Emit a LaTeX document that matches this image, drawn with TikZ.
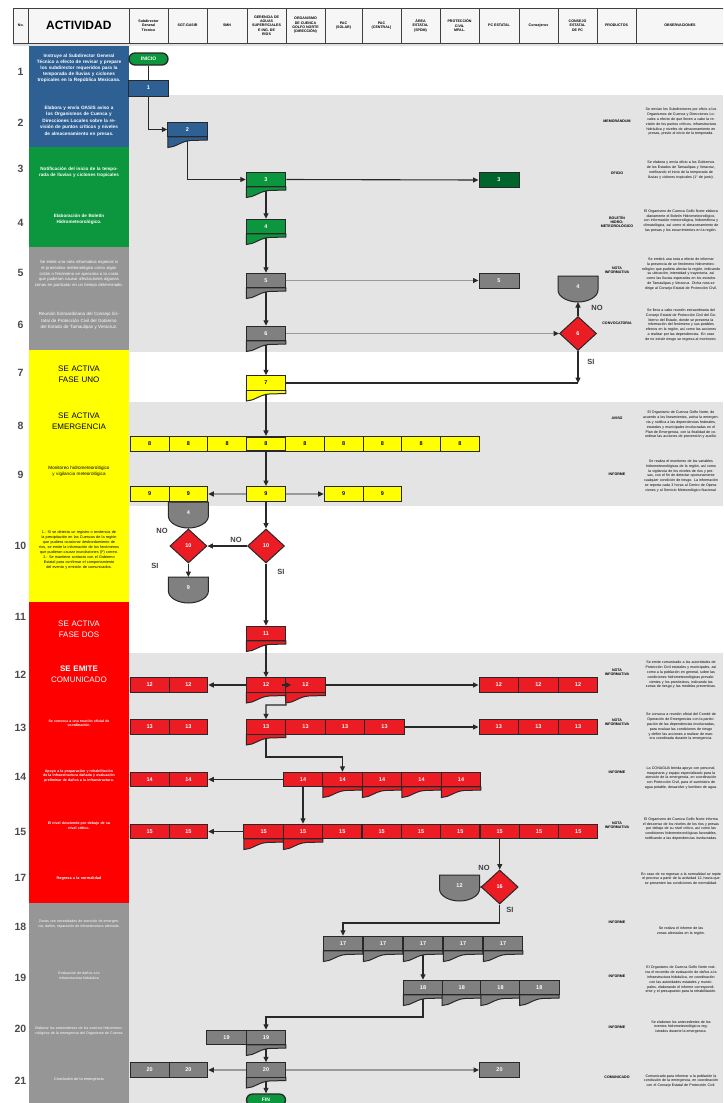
\documentclass[tikz,border=0pt]{standalone}
\usepackage{fontspec}
\setmainfont{Liberation Sans}
\usetikzlibrary{shapes.geometric,arrows.meta,calc}
\definecolor{bandgray}{RGB}{228,228,228}
\definecolor{cblue}{RGB}{46,96,148}
\definecolor{cgreen}{RGB}{12,150,62}
\definecolor{dgreen}{RGB}{0,100,45}
\definecolor{cgray}{RGB}{128,128,128}
\definecolor{lgray}{RGB}{150,150,150}
\definecolor{cyel}{RGB}{255,255,0}
\definecolor{cred}{RGB}{235,28,36}
\definecolor{lred}{RGB}{255,0,0}
\definecolor{edge}{RGB}{40,40,40}
\definecolor{numc}{RGB}{75,75,75}
\newcommand{\myfs}[2]{\fontsize{#1}{#2}\selectfont}
\pgfdeclarelayer{bg}
\pgfdeclarelayer{lines}
\pgfsetlayers{bg,lines,main}
\tikzset{
  box/.style={draw=edge,line width=1pt,minimum width=39.5,minimum height=14.5,inner sep=0,font=\myfs{5.5}{6}\bfseries,text=white},
  ybox/.style={box,fill=cyel,text=black},
  rbox/.style={box,fill=cred},
  gbox/.style={box,fill=cgray},
  dia/.style={diamond,draw=edge,line width=1pt,fill=cred,minimum width=37,minimum height=34,inner sep=0,font=\myfs{5.5}{6}\bfseries,text=white},
  term/.style={draw=edge,line width=1.3pt,fill=cgreen,rounded corners=6,minimum width=39,minimum height=12,inner sep=0,font=\myfs{5}{6}\bfseries,text=white},
  lbl/.style={inner sep=0,font=\myfs{5.5}{6}\bfseries,text=white},
  conn/.style={draw=edge,line width=1.1pt,-{Triangle[length=5.5pt,width=5pt]}},
  conn0/.style={draw=edge,line width=1.1pt},
  lconn/.style={draw=black!40,line width=1.4pt,-{Triangle[length=5.5pt,width=5pt,color=edge]}},
  rnum/.style={inner sep=0,font=\myfs{10.5}{11}\bfseries,text=numc},
  act/.style={text width=92,align=center,inner sep=0,text=white,font=\myfs{4.6}{5.8}\bfseries},
  obs/.style={text width=80,align=center,inner sep=0,text=black,font=\myfs{3.6}{4.8}},
  prod/.style={align=center,inner sep=0,text=black,font=\myfs{3.6}{4.4}\bfseries},
  yn/.style={inner sep=0,font=\myfs{7.5}{8}\bfseries,text=black!75},
  hcell/.style={draw=black!75,line width=0.8pt,fill=gray!7,minimum height=35,inner sep=0,align=center,font=\myfs{3.6}{4.3}\bfseries},
  pics/doc/.style 2 args={code={
     \draw[line width=1pt,draw=edge,fill=#2] (-19.75,7.25) -- (-19.75,18) .. controls (-12,18) and (-6,11.5) .. (3,11) -- (19.75,10.5) -- (19.75,7.25) -- cycle;
     \node[box,fill=#2] (-b) at (0,0) {#1};
  }},
  pics/offp/.style={code={
     \draw[line width=1pt,draw=edge,fill=cgray] (-20,-13) -- (20,-13) -- (20,1) .. controls (20,8) and (10,13) .. (0,13) .. controls (-10,13) and (-20,8) .. (-20,1) -- cycle;
     \node[lbl] (-c) at (0,-2) {#1};
     \coordinate (-s) at (0,13);
     \coordinate (-e) at (20,-1);
  }},
}
\begin{document}
\begin{tikzpicture}[x=1pt,y=-1pt]
\useasboundingbox (0,0) rectangle (723,1103);
\clip (0,0) rectangle (723,1103);
\begin{pgfonlayer}{bg}
  \fill[white] (0,0) rectangle (723,1103);
  \fill[bandgray] (129,95) rectangle (723,352);
  \fill[bandgray] (129,402) rectangle (723,506);
  \fill[bandgray] (129,653) rectangle (723,1103);
  \fill[cblue] (28.6,43) rectangle (129,147);
  \fill[cgreen] (28.6,147) rectangle (129,247);
  \fill[lgray] (28.6,247) rectangle (129,350);
  \fill[cyel] (28.6,350) rectangle (129,602);
  \fill[lred] (28.6,602) rectangle (129,903);
  \fill[lgray] (28.6,903) rectangle (129,1103);
  \fill[black!12] (13,43) rectangle (723,46);
\end{pgfonlayer}

% header
\foreach \xa/\xb/\txt [count=\i] in {
  13/28.6/{No.},
  28.6/129/{\myfs{12}{13}\bfseries ACTIVIDAD},
  129/168/{Subdirector\\General\\Técnico},
  168/207/{SGT-GASIR},
  207/247/{SMN},
  247/286/{GERENCIA DE\\AGUAS\\SUPERFICIALES\\E ING. DE\\RÍOS},
  286/325/{ORGANISMO\\DE CUENCA\\GOLFO NORTE\\(DIRECCIÓN)},
  325/362/{PAC\\(SOLAR)},
  362/401/{PAC\\(CENTRAL)},
  401/440/{ÁREA\\ESTATAL\\(SPDM)},
  440/479/{PROTECCIÓN\\CIVIL\\MPAL.},
  479/519/{PC ESTATAL},
  519/558/{Consejeros},
  558/597/{CONSEJO\\ESTATAL\\DE PC},
  597/636/{PRODUCTOS},
  636/724/{OBSERVACIONES}} {
  \pgfmathsetmacro\w{\xb-\xa}
  \pgfmathsetmacro\cx{(\xa+\xb)/2}
  \node[hcell,minimum width=\w pt] (h\i) at (\cx,25.5) {\txt};
}

% row numbers
\foreach \n/\yy [count=\i] in {1/72,2/123,3/169,4/223,5/273,6/325,7/373,8/426,9/475,10/546,11/617,12/675,13/728,14/777,15/832,17/878,18/927,19/978,20/1029,21/1081}
  \node[rnum] (rn\i) at (20.5,\yy) {\n};

% activity texts
\node[act,text width=86,font=\myfs{4.7}{6}\bfseries] (t1) at (79,68) {Instruye al Subdirector General Técnico a efecto de revisar y prepare los subdirector requeridos para la temporada de lluvias y ciclones tropicales en la República Mexicana.};
\node[act,text width=86,font=\myfs{4.7}{6.4}\bfseries] (t2) at (79,121) {Elabora y envía OASIS aviso a los Organismos de Cuenca y Direcciones Locales sobre la revisión de puntos críticos y niveles de almacenamiento en presas.};
\node[act] (t3) at (79,172) {Notificación del inicio de la temporada de lluvias y ciclones tropicales};
\node[act] (t4) at (79,219) {Elaboración de Boletín Hidrometeorológico.};
\node[act,font=\myfs{4.2}{5.8}] (t5) at (79,274) {Se emite una nota informativa especial si el pronóstico meteorológico como algún ciclón o fenómeno se aproxima a la costa que pudieran causar afectaciones algunas zonas en particular en un tiempo determinado.};
\node[act,font=\myfs{4.5}{6.5}] (t6) at (79,321) {Reunión Extraordinaria del Consejo Estatal de Protección Civil del Gobierno del Estado de Tamaulipas y Veracruz.};
\node[act,text=black,font=\myfs{8}{10.5}] (t7) at (79,374) {SE ACTIVA\\FASE UNO};
\node[act,text=black,font=\myfs{8}{10.5}] (t8) at (79,421) {SE ACTIVA\\EMERGENCIA};
\node[act,text=black,font=\myfs{4.6}{6}] (t9) at (79,471) {Monitoreo hidrometeorológico y vigilancia meteorológica};
\node[act,text=black,font=\myfs{3.8}{5}] (t10) at (79,550) {1.- Si se detecta un registro o tendencia de la precipitación en las Cuencas de la región que pudiera ocasionar desbordamiento de ríos, se emite la información de los fenómenos que pudieran causar inundaciones (F) correo.\\ 2.- Se mantiene contacto con el Gobierno Estatal para confirmar el comportamiento del evento y emisión de comunicados.};
\node[act,font=\myfs{8}{10.5}] (t11) at (79,629) {SE ACTIVA\\FASE DOS};
\node[act,font=\myfs{8}{10.5}] (t12) at (79,674) {\textbf{SE EMITE}\\\mdseries COMUNICADO};
\node[act,font=\myfs{3.5}{4.5}\bfseries] (t13) at (79,723) {Se convoca a una reunión oficial de\\coordinación.};
\node[act,font=\myfs{3.6}{4.6}\bfseries] (t14) at (79,776) {Apoyo a la preparación y rehabilitación de la infraestructura dañada y evaluación preliminar de daños a la infraestructura.};
\node[act,font=\myfs{3.6}{4.6}\bfseries] (t15) at (79,826) {El nivel desciende por debajo de su\\nivel crítico.};
\node[act,font=\myfs{3.8}{4.6}\bfseries] (t17) at (79,879) {Regresa a la normalidad};
\node[act,font=\myfs{3.6}{4.8}] (t18) at (79,924) {Zonas con necesidades de atención de emergencia, daños, reparación de infraestructura afectada.};
\node[act,font=\myfs{3.6}{4.8}] (t19) at (79,976) {Evaluación de daños a la\\infraestructura hidráulica};
\node[act,font=\myfs{3.6}{4.8}] (t20) at (79,1031) {Elaborar los antecedentes de los eventos hidrometeorológicos de la emergencia del Organismo de Cuenca};
\node[act,font=\myfs{3.8}{4.8}] (t21) at (79,1079) {Conclusión de la emergencia};

% products
\node[prod] (p2) at (617,121) {MEMORÁNDUM};
\node[prod] (p3) at (617,173) {OFICIO};
\node[prod] (p4) at (617,222) {BOLETÍN\\HIDRO-\\METEOROLÓGICO};
\node[prod] (p5) at (617,270) {NOTA\\INFORMATIVA};
\node[prod] (p6) at (617,323) {CONVOCATORIA};
\node[prod] (p8) at (617,418) {AVISO};
\node[prod] (p9) at (617,474) {INFORME};
\node[prod] (p12) at (617,672) {NOTA\\INFORMATIVA};
\node[prod] (p13) at (617,722) {NOTA\\INFORMATIVA};
\node[prod] (p14) at (617,772) {INFORME};
\node[prod] (p15) at (617,825) {NOTA\\INFORMATIVA};
\node[prod] (p18) at (617,922) {INFORME};
\node[prod] (p19) at (617,976) {INFORME};
\node[prod] (p20) at (617,1027) {INFORME};
\node[prod] (p21) at (617,1077) {COMUNICADO};

% observations
\node[obs] (o2) at (681,122) {Se envían los Subdirectores por oficio a los Organismos de Cuenca y Direcciones Locales a efecto de que lleven a cabo la revisión de los puntos críticos, infraestructura hidráulica y niveles de almacenamiento en presas, previo al inicio de la temporada.};
\node[obs] (o3) at (681,170) {Se elabora y envía oficio a los Gobiernos de los Estados de Tamaulipas y Veracruz, notificando el inicio de la temporada de lluvias y ciclones tropicales (1° de junio).};
\node[obs] (o4) at (681,221) {El Organismo de Cuenca Golfo Norte elabora diariamente el Boletín Hidrometeorológico, con información meteorológica, hidrométrica y climatológica, así como el almacenamiento de las presas y los escurrimientos en la región.};
\node[obs] (o5) at (681,274) {Se emitirá una nota a efecto de informar la presencia de un fenómeno hidrometeorológico que pudiera afectar la región, indicando su ubicación, intensidad y trayectoria, así como las lluvias esperadas en los estados de Tamaulipas y Veracruz. Dicha nota se dirige al Consejo Estatal de Protección Civil.};
\node[obs] (o6) at (681,325) {Se lleva a cabo reunión extraordinaria del Consejo Estatal de Protección Civil del Gobierno del Estado, donde se presenta la información del fenómeno y sus posibles efectos en la región, así como las acciones a realizar por las dependencias. En caso de no existir riesgo se regresa al monitoreo.};
\node[obs] (o8) at (681,425) {El Organismo de Cuenca Golfo Norte, de acuerdo a los lineamientos, activa la emergencia y notifica a las dependencias federales, estatales y municipales involucradas en el Plan de Emergencia, con la finalidad de coordinar las acciones de prevención y auxilio.};
\node[obs] (o9) at (681,476) {Se realiza el monitoreo de las variables hidrometeorológicas de la región, así como la vigilancia de los niveles de ríos y presas, con el fin de detectar oportunamente cualquier condición de riesgo. La información se reporta cada 3 horas al Centro de Operaciones y al Servicio Meteorológico Nacional.};
\node[obs] (o12) at (681,675) {Se emite comunicado a las autoridades de Protección Civil estatales y municipales, así como a la población en general, sobre las condiciones hidrometeorológicas prevalecientes y los pronósticos, indicando las zonas de riesgo y las medidas preventivas.};
\node[obs] (o13) at (681,727) {Se convoca a reunión oficial del Comité de Operación de Emergencias con la participación de las dependencias involucradas, para evaluar las condiciones de riesgo y definir las acciones a realizar de manera coordinada durante la emergencia.};
\node[obs] (o14) at (681,778) {La CONAGUA brinda apoyo con personal, maquinaria y equipo especializado para la atención de la emergencia, en coordinación con Protección Civil, para el suministro de agua potable, desazolve y bombeo de agua.};
\node[obs] (o15) at (681,829) {El Organismo de Cuenca Golfo Norte informa el descenso de los niveles de los ríos y presas por debajo de su nivel crítico, así como las condiciones hidrometeorológicas favorables, notificando a las dependencias involucradas.};
\node[obs] (o17) at (681,879) {En caso de no regresar a la normalidad se repite el proceso a partir de la actividad 12, hasta que se presenten las condiciones de normalidad.};
\node[obs] (o18) at (681,931) {Se realiza el informe de las zonas afectadas en la región.};
\node[obs] (o19) at (681,980) {El Organismo de Cuenca Golfo Norte realiza el recorrido de evaluación de daños a la infraestructura hidráulica, en coordinación con las autoridades estatales y municipales, elaborando el informe correspondiente y el presupuesto para la rehabilitación.};
\node[obs] (o20) at (681,1027) {Se elaboran los antecedentes de los eventos hidrometeorológicos registrados durante la emergencia.};
\node[obs] (o21) at (681,1081) {Comunicado para informar a la población la conclusión de la emergencia, en coordinación con el Consejo Estatal de Protección Civil.};

% ---- flow nodes ----
\node[term] (inicio) at (148.5,59) {INICIO};
\node[box,fill=cblue,minimum width=40,minimum height=16] (n1) at (148.5,88) {1};
\pic (n2) at (187.5,129.5) {doc={2}{cblue}};
\pic (n3) at (266,179.5) {doc={3}{cgreen}};
\node[box,fill=dgreen,minimum width=40,minimum height=15] (g3) at (499,180) {3};
\pic (n4) at (266,226.5) {doc={4}{cgreen}};
\pic (n5) at (266,280.5) {doc={5}{cgray}};
\node[gbox,minimum width=40,minimum height=15] (g5) at (499,280.5) {5};
\pic (n6) at (266,333.5) {doc={6}{cgray}};
\node[dia] (d6) at (578,333.5) {6};
\pic (c4a) at (578,289) {offp=4};
\node[yn] (no6) at (597,308) {NO};
\node[yn] (si6) at (591,362) {SI};
\coordinate (j6) at (578,383);
\pic (n7) at (266,383) {doc={\color{black}7}{cyel}};

% row 8
\foreach \xx/\nm in {149.6/r8a,188.4/r8b,227.2/r8c,304.8/r8e,343.6/r8f,382.4/r8g,421.2/r8h,460/r8i}
  \node[ybox,minimum width=38.8] (\nm) at (\xx,444) {8};
\node[ybox,minimum width=38.8,line width=1.6pt] (r8d) at (266,444) {8};

% row 9
\foreach \xx/\nm in {149.6/r9a,188.4/r9b,343.6/r9d,382.4/r9e}
  \node[ybox,minimum width=38.8] (\nm) at (\xx,494) {9};
\node[ybox,minimum width=38.8,line width=1.4pt] (r9c) at (266,494) {9};

% row 10
\pic (c4b) at (188.4,515) {offp=4};
\node[dia] (d10a) at (188.4,546) {10};
\pic (c9) at (188.4,590) {offp=9};
\node[dia] (d10b) at (266,546) {10};
\node[yn] (no10a) at (162,531) {NO};
\node[yn] (si10a) at (155,566) {SI};
\node[yn] (no10b) at (236,540) {NO};
\node[yn] (si10b) at (281,572) {SI};

% row 11
\pic (n11) at (266,633.5) {doc={11}{cred}};

% row 12
\node[rbox,minimum width=38.8] (r12a) at (149.6,685) {12};
\node[rbox,minimum width=38.8] (r12b) at (188.4,685) {12};
\pic (n12a) at (266,685) {doc={12}{cred}};
\pic (n12b) at (305.5,685) {doc={12}{cred}};
\foreach \xx/\nm in {498.8/r12c,538.4/r12d,578/r12e}
  \node[rbox,minimum width=39.6] (\nm) at (\xx,685) {12};
\coordinate (j12) at (286,705);

% row 13
\node[rbox,minimum width=38.8] (r13a) at (149.6,727) {13};
\node[rbox,minimum width=38.8] (r13b) at (188.4,727) {13};
\pic (n13a) at (266,727) {doc={13}{cred}};
\foreach \xx/\nm in {305.5/r13c,345/r13d,384.5/r13e}
  \node[rbox] (\nm) at (\xx,727) {13};
\foreach \xx/\nm in {498.8/r13f,538.4/r13g,578/r13h}
  \node[rbox,minimum width=39.6] (\nm) at (\xx,727) {13};
\coordinate (j13) at (266,757);

% row 14
\node[rbox,minimum width=38.8] (r14l1) at (149.6,779.5) {14};
\node[rbox,minimum width=38.8] (r14l2) at (188.4,779.5) {14};
\node[rbox] (r14a) at (303,779.5) {14};
\pic (n14b) at (342.5,779.5) {doc={14}{cred}};
\pic (n14c) at (382,779.5) {doc={14}{cred}};
\pic (n14d) at (421.5,779.5) {doc={14}{cred}};
\pic (n14e) at (461,779.5) {doc={14}{cred}};

% row 15
\node[rbox,minimum width=38.8] (r15l1) at (149.6,831.5) {15};
\node[rbox,minimum width=38.8] (r15l2) at (188.4,831.5) {15};
\pic (n15a) at (263.7,831.5) {doc={15}{cred}};
\pic (n15b) at (303,831.5) {doc={15}{cred}};
\foreach \xx/\nm in {342.3/r15c,381.7/r15d,421/r15e,460.3/r15f,499.7/r15g,539/r15h,578.3/r15i}
  \node[rbox,minimum width=39.3] (\nm) at (\xx,831.5) {15};

% row 17
\node[dia] (d16) at (499.7,887) {16};
\pic (c12) at (459.5,888) {offp=12};
\node[yn] (no16) at (484,868) {NO};
\node[yn] (si16) at (510,910) {SI};
\coordinate (j16) at (499.7,923);

% row 18
\pic (n17a) at (343,943.5) {doc={17}{cgray}};
\pic (n17b) at (383,943.5) {doc={17}{cgray}};
\pic (n17c) at (423,943.5) {doc={17}{cgray}};
\pic (n17d) at (463,943.5) {doc={17}{cgray}};
\pic (n17e) at (503,943.5) {doc={17}{cgray}};

% row 19
\pic (n18a) at (423,987.5) {doc={18}{cgray}};
\pic (n18b) at (461.75,987.5) {doc={18}{cgray}};
\pic (n18c) at (500.5,987.5) {doc={18}{cgray}};
\pic (n18d) at (539.25,987.5) {doc={18}{cgray}};
\coordinate (j18) at (423,1017);

% row 20
\node[gbox] (r20a) at (226.5,1037.5) {19};
\pic (n19b) at (266,1037.5) {doc={19}{cgray}};

% row 21
\pic (n20) at (266,1070) {doc={20}{cgray}};
\node[gbox,minimum width=38.8] (r21a) at (149.6,1070) {20};
\node[gbox,minimum width=38.8] (r21b) at (188.4,1070) {20};
\node[gbox,minimum width=40] (r21c) at (499.5,1070) {20};
\node[term] (fin) at (266,1100) {FIN};

% arrow tip between the two documents of row 12
\draw[conn] ($(n12b-b.west)+(-3,0)$) -- ($(n12b-b.west)+(6,0)$);

% ---- connectors ----
\begin{pgfonlayer}{lines}
  \draw[conn0] (inicio) -- (n1);
  \draw[conn] (n1.south) |- (n2-b.west);
  \draw[conn] (n2-b.south) |- (n3-b.west);
  \draw[conn] (n3-b.east) -- (g3.west);
  \draw[conn] (n3-b.south) -- (n4-b.north);
  \draw[conn] (n4-b.south) -- (n5-b.north);
  \draw[conn] (n5-b.south) -- (n6-b.north);
  \draw[conn] (n6-b.south) -- (n7-b.north);
  \draw[lconn] (n5-b.east) -- (g5.west);
  \draw[lconn] (n6-b.east) -- (d6.west);
  \draw[conn] (d6.north) -- (c4a-s);
  \draw[conn] (d6.south) -- (j6);
  \draw[conn0] (j6) -- (n7-b.east);
  \draw[conn] (n7-b.south) -- (r8d.north);
  \draw[conn] (r8d.south) -- (r9c.north);
  \draw[lconn] (r9c.west) -- (r9b.east);
  \draw[lconn] (r9c.east) -- (r9d.west);
  \draw[conn] (r9c.south) -- (d10b.north);
  \draw[conn] (d10b.west) -- (d10a.east);
  \draw[conn] (d10a.north) -- (c4b-s);
  \draw[conn] (d10a.south) -- ($(c9-s)+(0,-26)$);
  \draw[conn] (d10b.south) -- (n11-b.north);
  \draw[conn] (n11-b.south) -- (n12a-b.north);
  \draw[conn] (n12a-b.west) -- (r12b.east);
  \draw[conn] (n12b-b.east) -- (r12c.west);
  \draw[conn] (n12b-b.south west) -- (j12) -| (n13a-b.north);
  \draw[conn] (r13e.east) -- (r13f.west);
  \draw[conn] (n13a-b.south) -- (j13) -| (n14b-b.north);
  \draw[conn] (r14a.west) -- (r14l2.east);
  \draw[conn] (r14a.south) -- (n15b-b.north);
  \draw[conn] (n15a-b.west) -- (r15l2.east);
  \draw[conn] (r15g.south) -- (d16.north);
  \draw[conn] (d16.west) -- (c12-e);
  \draw[conn] (d16.south) -- (j16) -| (n17a-b.north);
  \draw[conn] (n17c-b.south) -- (n18a-b.north);
  \draw[conn] (n18a-b.south) -- (j18) -| (n19b-b.north);
  \draw[conn] (n19b-b.south) -- (n20-b.north);
  \draw[lconn] (n20-b.west) -- (r21b.east);
  \draw[lconn] (n20-b.east) -- (r21c.west);
  \draw[conn] (n20-b.south) -- (fin.north);
\end{pgfonlayer}
\end{tikzpicture}
\end{document}
